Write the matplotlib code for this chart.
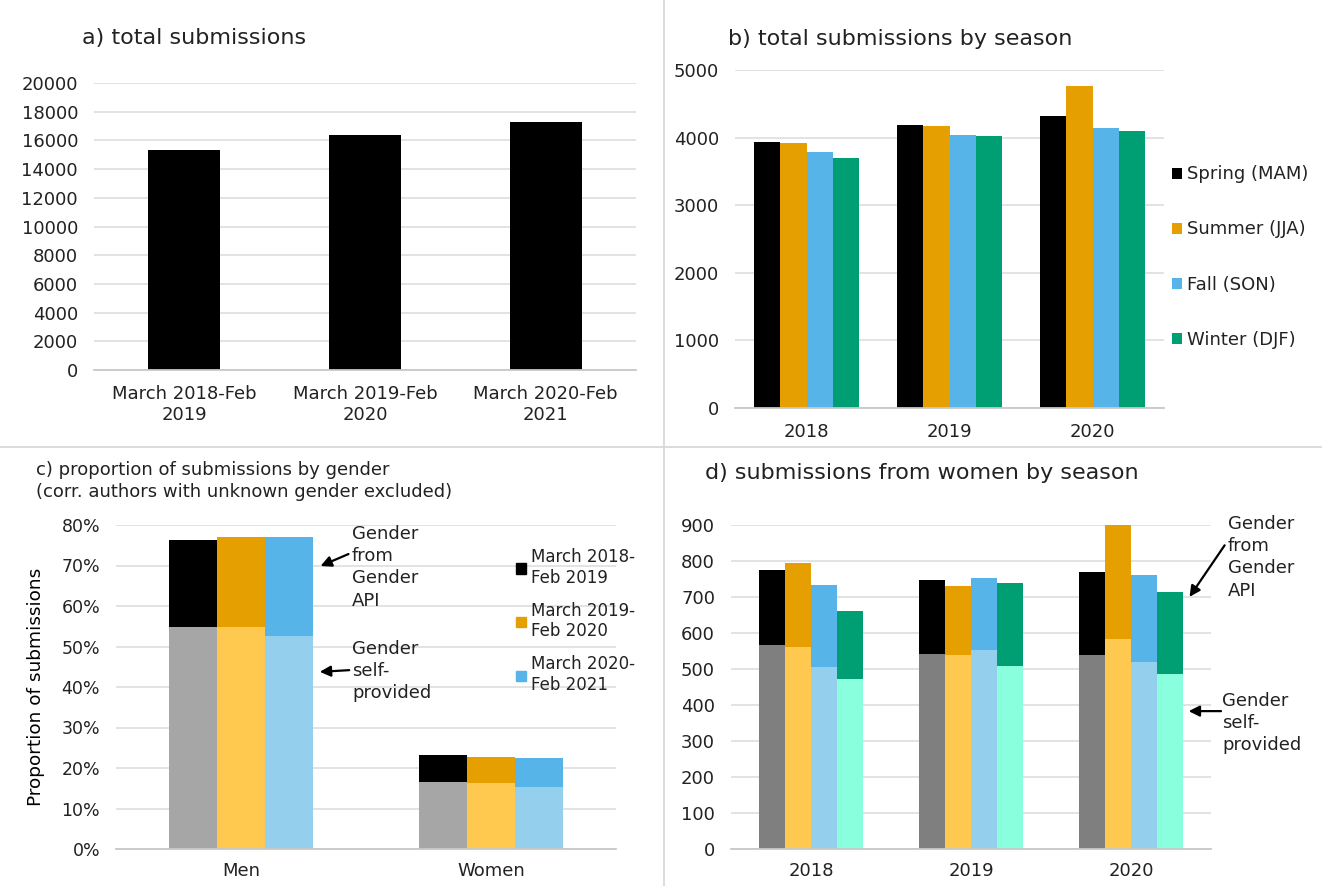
import numpy as np
import matplotlib
matplotlib.use("Agg")
import matplotlib.pyplot as plt
from matplotlib.lines import Line2D
from matplotlib.patches import Patch

plt.rcParams['font.family'] = ['DejaVu Sans']
plt.rcParams['text.color'] = '#222222'
plt.rcParams['xtick.color'] = '#222222'
plt.rcParams['ytick.color'] = '#222222'

# ------------------------------------------------------------
# dados
# ------------------------------------------------------------
periods = ["March 2018-Feb\n2019", "March 2019-Feb\n2020", "March 2020-Feb\n2021"]
total_subs = [15300, 16400, 17300]

years = ["2018", "2019", "2020"]
seasons = ["Spring (MAM)", "Summer (JJA)", "Fall (SON)", "Winter (DJF)"]
spring_subs = [3940, 4185, 4315]
summer_subs = [3925, 4170, 4765]
fall_subs = [3780, 4040, 4145]
winter_subs = [3695, 4025, 4095]

genders = ["Men", "Women"]
period_legend = ["March 2018-\nFeb 2019", "March 2019-\nFeb 2020", "March 2020-\nFeb 2021"]
share_total_2018 = [0.764, 0.232]
share_total_2019 = [0.771, 0.227]
share_total_2020 = [0.771, 0.225]
share_self_2018 = [0.547, 0.165]
share_self_2019 = [0.547, 0.163]
share_self_2020 = [0.527, 0.153]

women_total_spring = [775, 748, 769]
women_total_summer = [794, 731, 900]
women_total_fall = [732, 753, 761]
women_total_winter = [661, 739, 714]
women_self_spring = [568, 541, 538]
women_self_summer = [560, 538, 582]
women_self_fall = [506, 552, 519]
women_self_winter = [473, 508, 487]

dark_cols = ["#000000", "#E69F00", "#56B4E9", "#009E73"]
light_cols_c = ["#A6A6A6", "#FFC94F", "#95CFEE"]
light_cols_d = ["#7F7F7F", "#FFC94F", "#95CFEE", "#8AFFDE"]

W, H = 1322, 886
fig = plt.figure(figsize=(W / 100, H / 100), dpi=100)


def px_axes(x0, y0, x1, y1):
    """cria eixos a partir de coordenadas em pixels (topo-esquerda)."""
    return fig.add_axes([x0 / W, 1 - y1 / H, (x1 - x0) / W, (y1 - y0) / H])


def style(ax, size=13, xpad=10):
    for s in ["top", "right", "left"]:
        ax.spines[s].set_visible(False)
    ax.spines["bottom"].set_color("#c8c8c8")
    ax.spines["bottom"].set_linewidth(1.3)
    ax.yaxis.grid(True, color="#dedede", lw=1.2)
    ax.set_axisbelow(True)
    ax.tick_params(axis="both", length=0, labelsize=size)
    ax.tick_params(axis="y", pad=11.5)
    ax.tick_params(axis="x", pad=xpad)


arrow_kw = dict(arrowstyle="-|>", color="black", lw=1.6, mutation_scale=16)

# ------------------------------------------------------------
# a) total submissions
# ------------------------------------------------------------
ax_a = px_axes(94, 83, 636, 370)
xa = np.arange(len(periods))
ax_a.bar(xa, total_subs, width=0.4, color="black")
ax_a.set_xlim(-0.5, 2.5)
ax_a.set_ylim(0, 20000)
ax_a.set_yticks(np.arange(0, 20001, 2000))
ax_a.set_xticks(xa)
ax_a.set_xticklabels(periods, linespacing=1.27)
style(ax_a, xpad=10.5)
fig.text(82 / W, 1 - 38 / H, "a) total submissions", fontsize=16, va="center")

# ------------------------------------------------------------
# b) total submissions by season
# ------------------------------------------------------------
ax_b = px_axes(735, 70, 1164, 408)
xb = np.arange(len(years))
bw = 0.183
for i, vals in enumerate([spring_subs, summer_subs, fall_subs, winter_subs]):
    ax_b.bar(xb + (i - 1.5) * bw, vals, width=bw, color=dark_cols[i], label=seasons[i])
ax_b.set_xlim(-0.5, 2.5)
ax_b.set_ylim(0, 5000)
ax_b.set_yticks(np.arange(0, 5001, 1000))
ax_b.set_xticks(xb)
ax_b.set_xticklabels(years)
style(ax_b, xpad=11)
ax_b.legend(loc="center left", bbox_to_anchor=(1172 / W, 1 - 257 / H),
            bbox_transform=fig.transFigure, frameon=False, fontsize=13,
            handlelength=0.55, handleheight=0.55, handletextpad=0.28,
            labelspacing=2.05, borderpad=0, borderaxespad=0)
fig.text(728 / W, 1 - 39 / H, "b) total submissions by season", fontsize=16, va="center")

# ------------------------------------------------------------
# c) proportion by gender
# ------------------------------------------------------------
ax_c = px_axes(116, 525, 616, 849)
xc = np.arange(len(genders))
cw = 0.193
totals_c = [share_total_2018, share_total_2019, share_total_2020]
selfs_c = [share_self_2018, share_self_2019, share_self_2020]
for i in range(3):
    pos = xc + (i - 1) * cw
    self_v = np.array(selfs_c[i])
    api_v = np.array(totals_c[i]) - self_v
    ax_c.bar(pos, self_v, width=cw, color=light_cols_c[i])
    ax_c.bar(pos, api_v, bottom=self_v, width=cw, color=dark_cols[i])
ax_c.set_xlim(-0.5, 1.5)
ax_c.set_ylim(0, 0.8)
ax_c.set_yticks(np.arange(0, 0.81, 0.1))
ax_c.set_yticklabels([f"{int(round(v * 100))}%" for v in np.arange(0, 0.81, 0.1)])
ax_c.set_xticks(xc)
ax_c.set_xticklabels(genders)
style(ax_c, size=12.5, xpad=9.5)
ax_c.tick_params(axis="x", labelsize=13)
ax_c.set_ylabel("Proportion of submissions", fontsize=13.3, labelpad=12)
handles_c = [Patch(color=dark_cols[i]) for i in range(3)]
ax_c.legend(handles_c, period_legend, loc="center left",
            bbox_to_anchor=(516 / W, 1 - 621 / H), bbox_transform=fig.transFigure,
            frameon=False, fontsize=12, handlelength=0.6, handleheight=0.6,
            handletextpad=0.3, labelspacing=0.9, borderpad=0, borderaxespad=0)
ax_c.text(0.444, 0.80, "Gender\nfrom\nGender\nAPI", fontsize=13, va="top", ha="left",
          linespacing=1.3)
ax_c.annotate("", xy=(0.308, 0.696), xytext=(0.44, 0.731), arrowprops=arrow_kw)
ax_c.text(0.444, 0.516, "Gender\nself-\nprovided", fontsize=13, va="top", ha="left",
          linespacing=1.3)
ax_c.annotate("", xy=(0.304, 0.437), xytext=(0.444, 0.442), arrowprops=arrow_kw)
fig.text(36 / W, 1 - 481 / H, "c) proportion of submissions by gender\n(corr. authors with unknown gender excluded)",
         fontsize=13, va="center", linespacing=1.32)

# ------------------------------------------------------------
# d) submissions from women by season
# ------------------------------------------------------------
ax_d = px_axes(731, 525, 1211, 849)
xd = np.arange(len(years))
dw = 0.1625
totals_d = [women_total_spring, women_total_summer, women_total_fall, women_total_winter]
selfs_d = [women_self_spring, women_self_summer, women_self_fall, women_self_winter]
for i in range(4):
    pos = xd + (i - 1.5) * dw
    self_v = np.array(selfs_d[i])
    api_v = np.array(totals_d[i]) - self_v
    ax_d.bar(pos, self_v, width=dw, color=light_cols_d[i])
    ax_d.bar(pos, api_v, bottom=self_v, width=dw, color=dark_cols[i])
ax_d.set_xlim(-0.5, 2.5)
ax_d.set_ylim(0, 900)
ax_d.set_yticks(np.arange(0, 901, 100))
ax_d.set_xticks(xd)
ax_d.set_xticklabels(years)
style(ax_d, xpad=9.5)
ax_d.text(2.605, 928, "Gender\nfrom\nGender\nAPI", fontsize=13, va="top", ha="left",
          linespacing=1.3)
ax_d.annotate("", xy=(2.356, 694), xytext=(2.595, 850), arrowprops=arrow_kw)
ax_d.text(2.568, 436, "Gender\nself-\nprovided", fontsize=13, va="top", ha="left",
          linespacing=1.3)
ax_d.annotate("", xy=(2.343, 383), xytext=(2.58, 383), arrowprops=arrow_kw)
fig.text(705 / W, 1 - 473 / H, "d) submissions from women by season", fontsize=16, va="center")

# linhas divisorias entre os paineis
fig.add_artist(Line2D([664 / W, 664 / W], [0, 1], transform=fig.transFigure, color="#d9d9d9", lw=1.3))
fig.add_artist(Line2D([0, 1], [1 - 447 / H, 1 - 447 / H], transform=fig.transFigure, color="#d9d9d9", lw=1.3))

fig.savefig("out.png", dpi=100)
